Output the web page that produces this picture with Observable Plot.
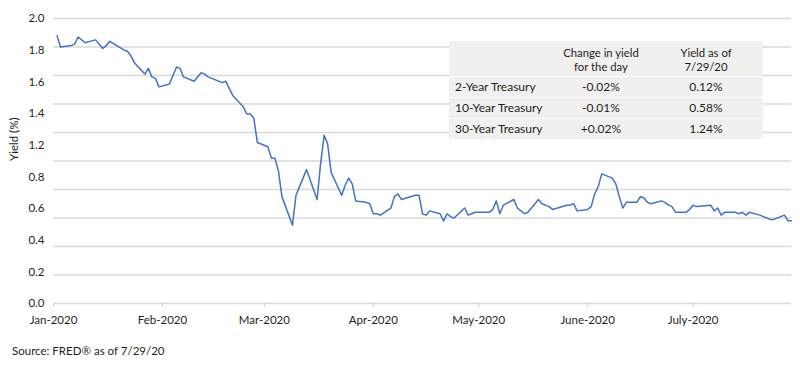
<!DOCTYPE html>
<html><head><meta charset="utf-8">
<script src="https://cdn.jsdelivr.net/npm/d3@7"></script>
<script src="https://cdn.jsdelivr.net/npm/@observablehq/plot@0.6"></script>
<style>
body{margin:0;background:#fff;font-family:Lato,"Open Sans",sans-serif;color:#231f20;}
#wrap{position:relative;width:800px;height:368px;overflow:hidden;}
#chart{position:absolute;left:0;top:0;}
#tbl{position:absolute;left:449px;top:41px;width:314px;background:#f0f0ef;font-size:12px;color:#231f20;}
#tbl .row{position:relative;height:21px;border-top:1px solid #fbfbfb;box-sizing:border-box;}
#tbl .head{position:relative;height:35px;}
#tbl span{position:absolute;white-space:nowrap;line-height:14px;}
#tbl .c1{left:6px;top:3px;}
#tbl .c2{left:92px;width:120px;text-align:center;top:3px;}
#tbl .c3{left:197px;width:120px;text-align:center;top:3px;}
#tbl .head span{font-size:11.3px;line-height:13px;height:13px;}
#tbl .head span.l1{top:4.5px;}
#tbl .head span.l2{top:18.5px;}
#caption{position:absolute;left:12px;top:344px;font-size:11.5px;color:#231f20;}
</style></head><body>
<div id="wrap"><div id="chart"></div><div id="tbl"></div><div id="caption">Source: FRED® as of 7/29/20</div></div>
<script>
const dates = [
"2020-01-02","2020-01-03","2020-01-06","2020-01-07","2020-01-08","2020-01-09","2020-01-10","2020-01-13","2020-01-14","2020-01-15","2020-01-16","2020-01-17","2020-01-21","2020-01-22","2020-01-23","2020-01-24","2020-01-27","2020-01-28","2020-01-29","2020-01-30","2020-01-31",
"2020-02-03","2020-02-04","2020-02-05","2020-02-06","2020-02-07","2020-02-10","2020-02-11","2020-02-12","2020-02-13","2020-02-14","2020-02-18","2020-02-19","2020-02-20","2020-02-21","2020-02-24","2020-02-25","2020-02-26","2020-02-27","2020-02-28",
"2020-03-02","2020-03-03","2020-03-04","2020-03-05","2020-03-06","2020-03-09","2020-03-10","2020-03-11","2020-03-12","2020-03-13","2020-03-16","2020-03-17","2020-03-18","2020-03-19","2020-03-20","2020-03-23","2020-03-24","2020-03-25","2020-03-26","2020-03-27","2020-03-30","2020-03-31",
"2020-04-01","2020-04-02","2020-04-03","2020-04-06","2020-04-07","2020-04-08","2020-04-09","2020-04-13","2020-04-14","2020-04-15","2020-04-16","2020-04-17","2020-04-20","2020-04-21","2020-04-22","2020-04-23","2020-04-24","2020-04-27","2020-04-28","2020-04-29","2020-04-30",
"2020-05-01","2020-05-04","2020-05-05","2020-05-06","2020-05-07","2020-05-08","2020-05-11","2020-05-12","2020-05-13","2020-05-14","2020-05-15","2020-05-18","2020-05-19","2020-05-20","2020-05-21","2020-05-22","2020-05-26","2020-05-27","2020-05-28","2020-05-29",
"2020-06-01","2020-06-02","2020-06-03","2020-06-04","2020-06-05","2020-06-08","2020-06-09","2020-06-10","2020-06-11","2020-06-12","2020-06-15","2020-06-16","2020-06-17","2020-06-18","2020-06-19","2020-06-22","2020-06-23","2020-06-24","2020-06-25","2020-06-26","2020-06-29","2020-06-30",
"2020-07-01","2020-07-02","2020-07-06","2020-07-07","2020-07-08","2020-07-09","2020-07-10","2020-07-13","2020-07-14","2020-07-15","2020-07-16","2020-07-17","2020-07-20","2020-07-21","2020-07-22","2020-07-23","2020-07-24","2020-07-27","2020-07-28","2020-07-29"
];
const yields = [
1.88,1.80,1.81,1.82,1.87,1.85,1.83,1.85,1.82,1.79,1.81,1.84,1.78,1.77,1.74,1.69,1.61,1.65,1.59,1.58,1.52,
1.54,1.60,1.66,1.65,1.59,1.56,1.59,1.62,1.61,1.59,1.55,1.56,1.51,1.46,1.38,1.33,1.33,1.30,1.13,
1.10,1.02,1.02,0.93,0.75,0.55,0.76,0.82,0.88,0.94,0.73,0.98,1.18,1.12,0.92,0.76,0.83,0.88,0.84,0.72,0.71,0.70,
0.63,0.63,0.62,0.67,0.75,0.77,0.73,0.76,0.76,0.63,0.62,0.65,0.63,0.58,0.63,0.61,0.60,0.67,0.62,0.63,0.64,
0.64,0.64,0.66,0.72,0.63,0.69,0.73,0.67,0.65,0.63,0.64,0.73,0.70,0.69,0.68,0.66,0.69,0.69,0.70,0.65,
0.66,0.68,0.77,0.82,0.91,0.88,0.84,0.75,0.67,0.71,0.71,0.75,0.74,0.71,0.70,0.72,0.71,0.69,0.68,0.64,0.64,0.66,
0.69,0.68,0.69,0.65,0.67,0.62,0.64,0.64,0.63,0.64,0.62,0.64,0.62,0.61,0.60,0.59,0.59,0.62,0.58,0.58
];
const xDomain = ["2020-01-01","2020-07-29"];
const monthTicks = ["2020-01-01","2020-02-01","2020-03-01","2020-04-01","2020-05-01","2020-06-01","2020-07-01"];
const monthLabels = ["Jan-2020","Feb-2020","Mar-2020","Apr-2020","May-2020","June-2020","July-2020"];
const gridValues = [0,0.2,0.4,0.6,0.8,1.0,1.2,1.4,1.6,1.8,2.0];
const yTickLabels = ["0.0","0.2","0.4","0.6","0.8","1.2","1.4","1.6","1.8","2.0"];
const yLabel = "Yield (%)";
const tableHeader = [["", ""], ["Change in yield", "for the day"], ["Yield as of", "7/29/20"]];
const tableRows = ["2-Year Treasury","10-Year Treasury","30-Year Treasury"];
const tableChange = ["-0.02%","-0.01%","+0.02%"];
const tableYield = ["0.12%","0.58%","1.24%"];

const parse = s => new Date(s + "T00:00:00Z");
const data = dates.map((d, i) => ({date: parse(d), y: yields[i]}));
const yMax = gridValues[gridValues.length - 1];
const yTickPos = yTickLabels.map((_, i) => i * yMax / (yTickLabels.length - 1));
const monthDates = monthTicks.map(parse);
const monthMap = new Map(monthDates.map((d, i) => [+d, monthLabels[i]]));

const chart = Plot.plot({
  width: 800, height: 336,
  marginTop: 18, marginBottom: 33, marginLeft: 53, marginRight: 9,
  style: {fontFamily: "Lato, 'Open Sans', sans-serif", fontSize: "11.5px", color: "#231f20", background: "transparent"},
  x: {type: "utc", domain: xDomain.map(parse)},
  y: {domain: [0, yMax]},
  marks: [
    Plot.ruleY(gridValues, {stroke: "#d9d9d9", strokeWidth: 1.4}),
    Plot.axisY(yTickPos, {tickSize: 0, tickPadding: 9, label: null,
      tickFormat: d => yTickLabels[Math.round(d * (yTickLabels.length - 1) / yMax)]}),
    Plot.axisX(monthDates, {tickSize: 4, tickPadding: 8, label: null, stroke: "#cfcfcf",
      tickFormat: d => monthMap.get(+d)}),
    Plot.text([yLabel], {frameAnchor: "left", dx: -39, rotate: -90, text: d => d, fill: "#231f20"}),
    Plot.lineY(data, {x: "date", y: "y", stroke: "#4472c4", strokeWidth: 1.5})
  ]
});
document.getElementById("chart").appendChild(chart);

const tbl = document.getElementById("tbl");
let html = `<div class="head">` +
  tableHeader.map((h, c) => `<span class="c${c + 1} l1">${h[0]}</span><span class="c${c + 1} l2">${h[1]}</span>`).join("") +
  `</div>`;
tableRows.forEach((r, i) => {
  html += `<div class="row"><span class="c1">${r}</span><span class="c2">${tableChange[i]}</span><span class="c3">${tableYield[i]}</span></div>`;
});
tbl.innerHTML = html;
</script>
</body></html>
